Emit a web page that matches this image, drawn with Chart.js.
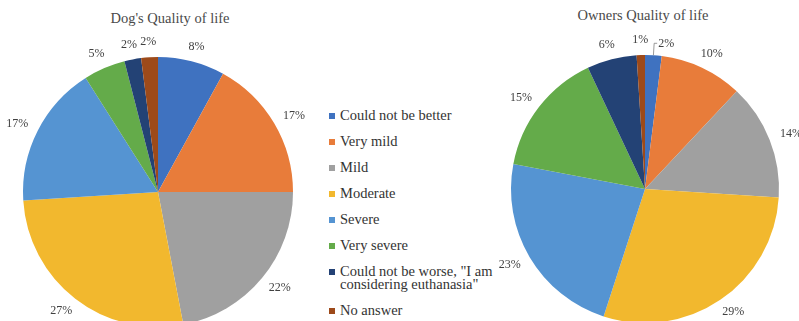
<!DOCTYPE html>
<html>
<head>
<meta charset="utf-8">
<script src="https://cdn.jsdelivr.net/npm/chart.js@4.4.1/dist/chart.umd.min.js"></script>
<style>
  html, body { margin: 0; padding: 0; background: #fff; }
  body { width: 799px; height: 321px; position: relative; overflow: hidden; }
  canvas { position: absolute; }
  .title { position: absolute; font-family: "Liberation Serif", "Times New Roman", "DejaVu Serif", serif; font-size: 14.5px; line-height: 16px; color: #4a4a4a; transform: translateX(-50%); white-space: nowrap; }
  #legend { position: absolute; left: 329px; top: 109px; font-family: "Liberation Serif", "Times New Roman", "DejaVu Serif", serif; font-size: 14.5px; line-height: 13px; color: #333; }
  .item { display: flex; align-items: flex-start; margin-bottom: 13px; }
  .sw { width: 6px; height: 6px; margin: 3.5px 5px 0 0; flex: none; }
  .txt { width: 165px; }
</style>
</head>
<body>
<div class="title" style="left:170px; top:10px;">Dog's Quality of life</div>
<div class="title" style="left:643px; top:7px;">Owners Quality of life</div>
<div id="legend"></div>
<canvas id="dog" width="340" height="340" style="left:-12px; top:22px;"></canvas>
<canvas id="owner" width="340" height="340" style="left:475px; top:19px;"></canvas>
<script>
// Answer categories shared by both pies
const categories = [
  'Could not be better',
  'Very mild',
  'Mild',
  'Moderate',
  'Severe',
  'Very severe',
  'Could not be worse, "I am considering euthanasia"',
  'No answer'
];

// Percentages of responses
const dogValues = [8, 17, 22, 27, 17, 5, 2, 2];
const ownerValues = [2, 10, 14, 29, 23, 15, 6, 1];

const sliceColors = ['#3f72c0', '#e87c3a', '#a0a0a0', '#f2b82e', '#5594d2', '#64ab4a', '#234275', '#9d4a1a'];

const LABEL_FONT = '12px "Liberation Serif", "Times New Roman", "DejaVu Serif", serif';

// Percent labels placed just outside each slice; a label that would
// collide with the last slice's label is nudged clockwise with a leader line.
const outsideLabels = {
  id: 'outsideLabels',
  afterDatasetsDraw(chart) {
    const ctx = chart.ctx;
    const data = chart.data.datasets[0].data;
    ctx.save();
    ctx.font = LABEL_FONT;
    ctx.fillStyle = '#404040';
    ctx.strokeStyle = '#808080';
    ctx.lineWidth = 0.8;
    ctx.textAlign = 'center';
    ctx.textBaseline = 'middle';
    const h = 10;
    const boxes = chart.getDatasetMeta(0).data.map((arc, i) => {
      const p = arc.getProps(['x', 'y', 'startAngle', 'endAngle', 'outerRadius'], true);
      const a = (p.startAngle + p.endAngle) / 2;
      const text = data[i] + '%';
      const w = ctx.measureText(text).width;
      const r = p.outerRadius + 10;
      return {
        text, w, a, p,
        cx: p.x + (r + w / 2 + 2) * Math.cos(a),
        cy: p.y + (r + h / 2) * Math.sin(a),
        leader: false
      };
    });
    const first = boxes[0], last = boxes[boxes.length - 1];
    const overlap = (last.cx + last.w / 2 + 6) - (first.cx - first.w / 2);
    if (overlap > 0 && Math.abs(first.cy - last.cy) < h) {
      first.cx += overlap + 4;
      first.cy += 4;
      first.leader = true;
    }
    boxes.forEach(b => {
      ctx.fillText(b.text, b.cx, b.cy);
      if (b.leader) {
        const ex = b.p.x + b.p.outerRadius * Math.cos(b.a);
        const ey = b.p.y + b.p.outerRadius * Math.sin(b.a);
        ctx.beginPath();
        ctx.moveTo(ex, ey);
        ctx.lineTo(b.cx - b.w / 2 - 4, b.cy - 1);
        ctx.lineTo(b.cx - b.w / 2 - 1, b.cy - 1);
        ctx.stroke();
      }
    });
    ctx.restore();
  }
};

function makePie(id, values, pad) {
  return new Chart(document.getElementById(id), {
    type: 'pie',
    data: {
      labels: categories,
      datasets: [{ data: values, backgroundColor: sliceColors, borderWidth: 0 }]
    },
    options: {
      responsive: false,
      animation: false,
      layout: { padding: pad },
      plugins: { legend: { display: false }, tooltip: { enabled: false } }
    },
    plugins: [outsideLabels]
  });
}

makePie('dog', dogValues, 35);
makePie('owner', ownerValues, 36);

// Shared legend
const legend = document.getElementById('legend');
categories.forEach((name, i) => {
  const item = document.createElement('div');
  item.className = 'item';
  const sw = document.createElement('span');
  sw.className = 'sw';
  sw.style.background = sliceColors[i];
  const txt = document.createElement('span');
  txt.className = 'txt';
  txt.textContent = name;
  item.appendChild(sw);
  item.appendChild(txt);
  legend.appendChild(item);
});
</script>
</body>
</html>
